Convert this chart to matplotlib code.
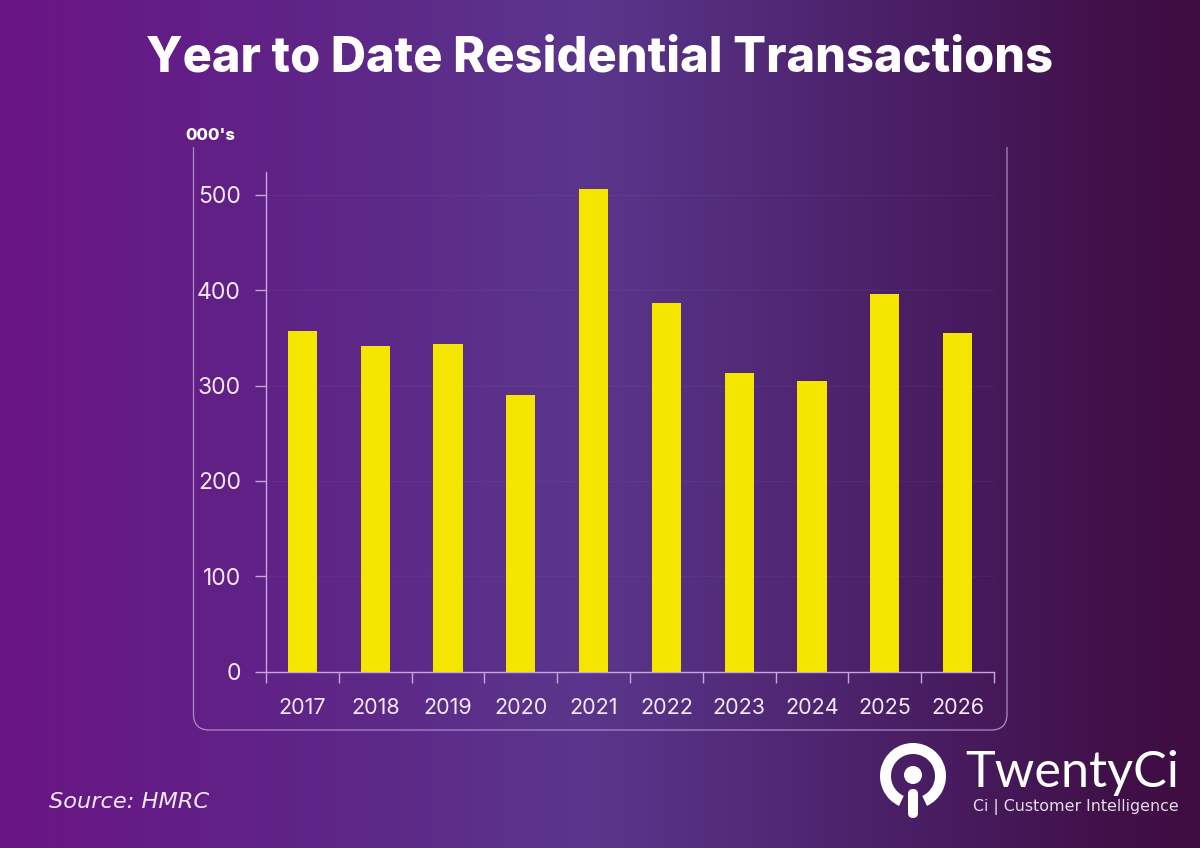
import numpy as np
import matplotlib
matplotlib.use('Agg')
import matplotlib.pyplot as plt
from matplotlib.colors import LinearSegmentedColormap
from matplotlib.patches import Wedge, Circle, PathPatch, FancyBboxPatch
from matplotlib.path import Path

W = 1200
H = 848

years = ['2017', '2018', '2019', '2020', '2021', '2022', '2023', '2024', '2025', '2026']
transactions = [357, 342, 344, 290, 506, 387, 313, 305, 396, 355]
y_ticks = [0, 100, 200, 300, 400, 500]

BAR = '#f5e600'
LINE = '#c6a6dc'
TEXT = '#f3e9f8'

plt.rcParams['font.family'] = ['Inter', 'DejaVu Sans']

fig = plt.figure(figsize=(W / 100, H / 100), dpi=100)

# background gradient + frame + logo, drawn in pixel coords
bg = fig.add_axes([0, 0, 1, 1])
bg.set_xlim(0, W)
bg.set_ylim(H, 0)
bg.axis('off')
cmap = LinearSegmentedColormap.from_list('bg', [
    (0.0, '#6a1585'), (0.25, '#5f2487'), (0.49, '#5a368c'),
    (0.75, '#4a1f66'), (0.92, '#41114a'), (1.0, '#3e0c40')])
bg.imshow(np.linspace(0, 1, W).reshape(1, -1), cmap=cmap, aspect='auto',
          extent=[0, W, H, 0], zorder=0)

# chart frame, open at the top
r = 16
frame = Path([(193.5, 147), (193.5, 730 - r), (193.5, 730), (193.5 + r, 730),
              (1007 - r, 730), (1007, 730), (1007, 730 - r), (1007, 147)],
             [Path.MOVETO, Path.LINETO, Path.CURVE3, Path.CURVE3,
              Path.LINETO, Path.CURVE3, Path.CURVE3, Path.LINETO])
bg.add_patch(PathPatch(frame, fc='none', ec='#a98bc4', lw=0.9, zorder=1))

bg.text(600, 58, 'Year to Date Residential Transactions', color='white',
        fontsize=35, fontweight=800, ha='center', va='center')
bg.text(185, 136, "000's", color='white', fontsize=12, fontweight=800,
        ha='left', va='center')
bg.text(49, 802, 'Source: HMRC', color=TEXT, fontsize=16.2, style='italic',
        family=['DejaVu Sans'], fontweight='normal', ha='left', va='center')

# logo
bg.add_patch(Wedge((913, 776), 33, 115, 65, width=11, fc='white', ec='none', zorder=2))
bg.add_patch(Circle((913, 775), 9, fc='white', ec='none', zorder=2))
bg.add_patch(FancyBboxPatch((908, 789), 10, 29, boxstyle='round,pad=0,rounding_size=5',
                            fc='white', ec='none', zorder=2))
bg.text(965, 773, 'TwentyCi', color='white', fontsize=36.3, ha='left', va='center',
        family=['Lato'])
bg.text(973, 807, 'Ci | Customer Intelligence', color='#e6dcec', fontsize=11.4,
        ha='left', va='center', family=['DejaVu Sans'])

# chart
left, right, top, bottom = 266, 994, 172, 671.5
ax = fig.add_axes([left / W, 1 - bottom / H, (right - left) / W, (bottom - top) / H])
ax.patch.set_alpha(0)
x = np.arange(len(years))
ax.bar(x, transactions, width=0.4, color=BAR, zorder=3)
ax.set_xlim(-0.5, len(years) - 0.5)
ax.set_ylim(0, (bottom - top) / 0.953)

ax.set_yticks(y_ticks)
ax.set_xticks(x)
ax.set_xticklabels(years)
ax.set_xticks(np.arange(len(years) + 1) - 0.5, minor=True)
ax.tick_params(axis='x', which='major', length=0, pad=19, labelsize=15.5, labelcolor=TEXT)
ax.tick_params(axis='x', which='minor', length=8, width=1, color=LINE)
ax.tick_params(axis='y', length=8, width=1, color=LINE, pad=10, labelsize=16.5, labelcolor=TEXT)
ax.grid(axis='y', color='#ffffff', alpha=0.04, lw=1, zorder=1)

for side in ['top', 'right']:
    ax.spines[side].set_visible(False)
for side in ['left', 'bottom']:
    ax.spines[side].set_color(LINE)
    ax.spines[side].set_linewidth(1)

fig.savefig('out.png', dpi=100)
